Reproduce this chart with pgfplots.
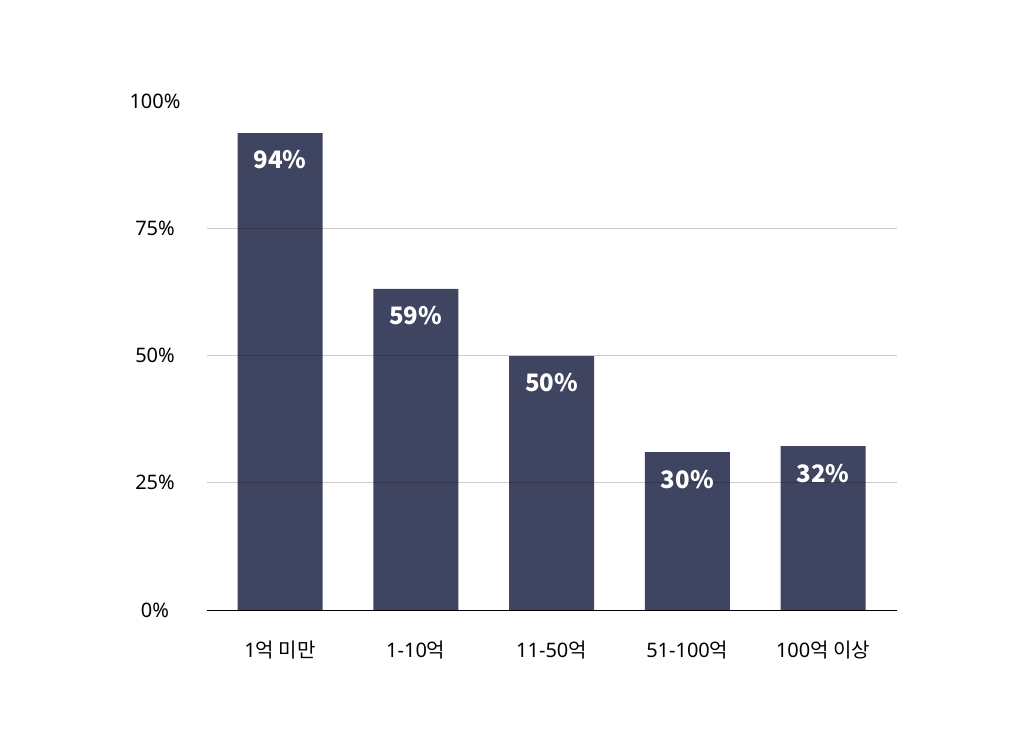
\documentclass[border=0pt]{standalone}
\usepackage{pgfplots}
\pgfplotsset{compat=1.18}
\usepackage{fontspec}
\setmainfont{Noto Sans}
\newfontfamily\kr{Noto Sans CJK KR}
\definecolor{barc}{HTML}{3F4560}
\begin{document}
\begin{tikzpicture}
\path[use as bounding box] (0,0) rectangle (1024pt,753pt);
\begin{axis}[
  at={(207pt,143pt)}, anchor=south west,
  width=690pt, height=509pt, scale only axis,
  xmin=-0.538, xmax=4.545, ymin=0, ymax=100,
  axis on top,
  axis x line*=bottom, axis y line*=left,
  y axis line style={draw=none},
  x axis line style={black, line width=1pt, -},
  major tick length=0pt,
  xtick={0,1,2,3,4},
  xticklabels={1{\kr 억 미만}, 1-10{\kr 억}, 11-50{\kr 억}, 51-100{\kr 억}, 100{\kr 억 이상}},
  ytick={0,25,50,75,100},
  yticklabels={0\%,25\%,50\%,75\%,100\%},
  extra y ticks={25,50,75},
  extra y tick labels={},
  extra y tick style={ymajorgrids=true, major grid style={black, opacity=0.2, line width=0.8pt}},
  /pgf/number format/assume math mode=true,
  ticklabel style={font=\fontsize{20}{24}\selectfont, text=black},
  yticklabel style={anchor=center, xshift=-52pt},
  xticklabel style={anchor=center, yshift=-40pt},
  point meta=explicit,
  nodes near coords={\pgfmathprintnumber[fixed,precision=0]{\pgfplotspointmeta}\%},
  every node near coord/.append style={anchor=center, yshift=-27pt, text=white, font=\kr\bfseries\fontsize{24}{28}\selectfont},
]
\addplot[ybar, bar width=85pt, fill=barc, draw=none] table[x=x, y=y, meta=m] {
x y m
0 93.7 94
1 63.1 59
2 49.9 50
3 31.0 30
4 32.2 32
};
\end{axis}
\end{tikzpicture}
\end{document}
